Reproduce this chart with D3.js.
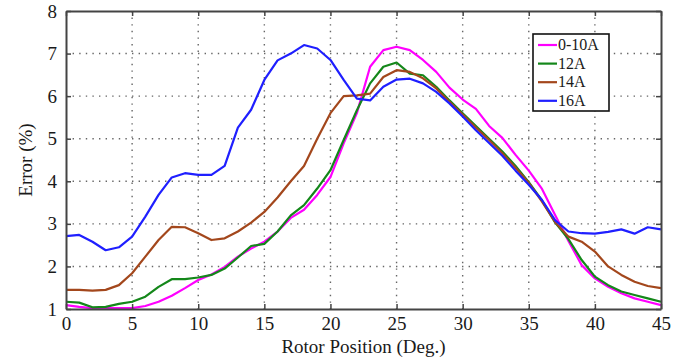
<!DOCTYPE html>
<html lang="en">

<head>
    <script src='https://d3js.org/d3.v7.min.js'></script>
    <style>
        body { margin: 0; background: #fff; }
    </style>
</head>

<body>

    <script>

        // rotor position, degrees
        var positions = d3.range(0, 46);

        var seriesNames = ["0-10A", "12A", "14A", "16A"];
        var seriesColors = ["#ff00ff", "#14871a", "#a3471c", "#1f1fff"];

        var err0to10 = [1.09, 1.05, 1.02, 1.02, 1.02, 1.02, 1.07, 1.17, 1.31, 1.49,
            1.68, 1.81, 1.99, 2.23, 2.42, 2.58, 2.82, 3.14, 3.33, 3.68,
            4.10, 4.89, 5.60, 6.69, 7.08, 7.16, 7.08, 6.85, 6.57, 6.20,
            5.92, 5.70, 5.30, 5.02, 4.62, 4.25, 3.82, 3.20, 2.60, 2.03,
            1.72, 1.52, 1.37, 1.25, 1.17, 1.09];

        var err12 = [1.17, 1.15, 1.04, 1.05, 1.12, 1.17, 1.29, 1.52, 1.70, 1.70,
            1.74, 1.80, 1.95, 2.21, 2.48, 2.53, 2.82, 3.20, 3.44, 3.83,
            4.26, 4.97, 5.67, 6.30, 6.69, 6.79, 6.53, 6.49, 6.22, 5.90,
            5.60, 5.30, 5.00, 4.70, 4.36, 3.98, 3.55, 3.03, 2.64, 2.15,
            1.76, 1.56, 1.41, 1.33, 1.25, 1.17];

        var err14 = [1.45, 1.45, 1.43, 1.45, 1.56, 1.84, 2.23, 2.62, 2.93, 2.92,
            2.78, 2.62, 2.66, 2.82, 3.03, 3.28, 3.62, 4.00, 4.36, 5.00,
            5.60, 6.00, 6.02, 6.06, 6.45, 6.61, 6.57, 6.42, 6.18, 5.87,
            5.57, 5.26, 4.97, 4.66, 4.32, 3.96, 3.52, 3.04, 2.70, 2.58,
            2.35, 2.00, 1.80, 1.64, 1.54, 1.49];

        var err16 = [2.71, 2.74, 2.58, 2.38, 2.45, 2.70, 3.17, 3.68, 4.09, 4.19,
            4.15, 4.15, 4.36, 5.26, 5.68, 6.38, 6.84, 7.00, 7.20, 7.12,
            6.85, 6.38, 5.94, 5.90, 6.22, 6.39, 6.41, 6.30, 6.10, 5.83,
            5.52, 5.20, 4.90, 4.60, 4.25, 3.92, 3.56, 3.08, 2.82, 2.78,
            2.77, 2.81, 2.87, 2.77, 2.92, 2.87];

        var xTicks = [0, 5, 10, 15, 20, 25, 30, 35, 40, 45];
        var yTicks = [1, 2, 3, 4, 5, 6, 7, 8];

        var allSeries = [err0to10, err12, err14, err16];

        var serif = "'Liberation Serif', 'DejaVu Serif', serif";

        var width = 695,
            height = 361,
            margin = { top: 11, right: 34, bottom: 52, left: 66 };

        var x = d3.scaleLinear().domain([0, 45]).range([margin.left, width - margin.right]);
        var y = d3.scaleLinear().domain([1, 8]).range([height - margin.bottom, margin.top]);

        var svg = d3.select("body").append("svg")
            .attr("width", width)
            .attr("height", height);

        // dotted grid
        var grid = svg.append("g").attr("stroke", "#666").attr("stroke-width", 1.4)
            .attr("stroke-dasharray", "1.4,5.2");
        grid.selectAll(".gx").data(xTicks.slice(1, -1)).enter().append("line")
            .attr("x1", d => x(d)).attr("x2", d => x(d))
            .attr("y1", y(8)).attr("y2", y(1));
        grid.selectAll(".gy").data(yTicks.slice(1, -1)).enter().append("line")
            .attr("y1", d => y(d)).attr("y2", d => y(d))
            .attr("x1", x(0)).attr("x2", x(45));

        // series lines
        var line = d3.line()
            .x((d, i) => x(positions[i]))
            .y(d => y(d));

        svg.selectAll(".series").data(allSeries).enter().append("path")
            .attr("fill", "none")
            .attr("stroke", (d, i) => seriesColors[i])
            .attr("stroke-width", 2.2)
            .attr("stroke-linejoin", "round")
            .attr("d", line);

        // axes, ticks pointing inward on all four sides
        function styleAxis(g) {
            g.select(".domain").attr("stroke", "#444").attr("stroke-width", 2);
            g.selectAll(".tick line").attr("stroke", "#444").attr("stroke-width", 1.5);
            g.selectAll("text")
                .style("font-family", serif)
                .style("font-size", "19px")
                .attr("fill", "#1a1a1a");
        }

        svg.append("g")
            .attr("transform", "translate(0," + y(1) + ")")
            .call(d3.axisBottom(x).tickValues(xTicks).tickSize(-5).tickPadding(8)
                .tickFormat(d3.format("d")).tickSizeOuter(0))
            .call(styleAxis);

        svg.append("g")
            .attr("transform", "translate(0," + y(8) + ")")
            .call(d3.axisTop(x).tickValues(xTicks).tickSize(-5).tickFormat("").tickSizeOuter(0))
            .call(styleAxis);

        svg.append("g")
            .attr("transform", "translate(" + x(0) + ",0)")
            .call(d3.axisLeft(y).tickValues(yTicks).tickSize(-5).tickPadding(9)
                .tickFormat(d3.format("d")).tickSizeOuter(0))
            .call(styleAxis);

        svg.append("g")
            .attr("transform", "translate(" + x(45) + ",0)")
            .call(d3.axisRight(y).tickValues(yTicks).tickSize(-5).tickFormat("").tickSizeOuter(0))
            .call(styleAxis);

        // axis titles
        svg.append("text")
            .attr("x", (x(0) + x(45)) / 2)
            .attr("y", 353)
            .attr("text-anchor", "middle")
            .style("font-family", serif)
            .style("font-size", "19px")
            .attr("fill", "#1a1a1a")
            .text("Rotor Position (Deg.)");

        svg.append("text")
            .attr("transform", "translate(32," + (y(1) + y(8)) / 2 + ") rotate(-90)")
            .attr("text-anchor", "middle")
            .style("font-family", serif)
            .style("font-size", "19px")
            .attr("fill", "#1a1a1a")
            .text("Error (%)");

        // legend
        var legend = svg.append("g").attr("transform", "translate(533,34)");
        legend.append("rect")
            .attr("width", 76).attr("height", 77)
            .attr("fill", "#fff").attr("stroke", "#111").attr("stroke-width", 1.6);

        var item = legend.selectAll(".item").data(seriesNames).enter().append("g")
            .attr("transform", (d, i) => "translate(0," + (11 + i * 18.6) + ")");
        item.append("line")
            .attr("x1", 5).attr("x2", 24)
            .attr("stroke", (d, i) => seriesColors[i])
            .attr("stroke-width", 2.2);
        item.append("text")
            .attr("x", 25).attr("dy", "0.33em")
            .style("font-family", serif)
            .style("font-size", "16px")
            .attr("fill", "#1a1a1a")
            .text(d => d);

    </script>

</body>

</html>
